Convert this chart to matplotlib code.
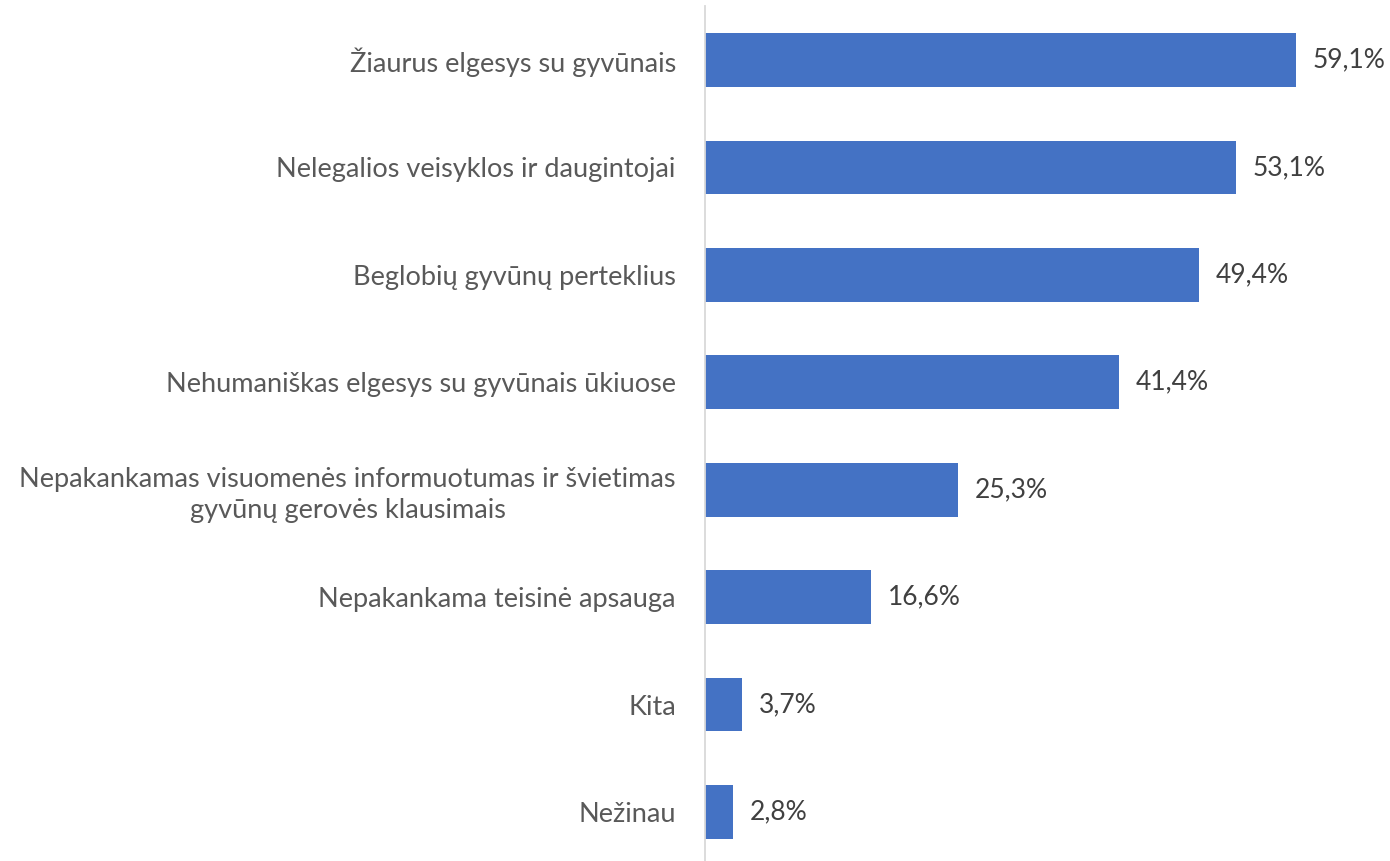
import matplotlib
matplotlib.use("Agg")
import matplotlib.pyplot as plt

# data (top to bottom)
categories = [
    "Žiaurus elgesys su gyvūnais",
    "Nelegalios veisyklos ir daugintojai",
    "Beglobių gyvūnų perteklius",
    "Nehumaniškas elgesys su gyvūnais ūkiuose",
    "Nepakankamas visuomenės informuotumas ir švietimas\ngyvūnų gerovės klausimais",
    "Nepakankama teisinė apsauga",
    "Kita",
    "Nežinau",
]
values = [59.1, 53.1, 49.4, 41.4, 25.3, 16.6, 3.7, 2.8]

plt.rcParams['font.family'] = ['Lato', 'DejaVu Sans']

fig = plt.figure(figsize=(13.9, 8.61), dpi=100)
ax = fig.add_axes([705/1390, -4.7/861, (1385-705)/1390, 859.4/861])

pos = list(range(len(categories)))
ax.barh(pos, values, height=0.5, color='#4472C4')
ax.set_ylim(len(categories) - 0.5, -0.5)
ax.set_xlim(0, 68.0)

for p, v in zip(pos, values):
    ax.text(v + 1.7, p, f"{v:.1f}%".replace('.', ','), va='center', ha='left',
            fontsize=19, color='#404040')

ax.set_yticks(pos)
ax.set_yticklabels(categories, fontsize=19.5, color='#595959', ha='right',
                   multialignment='center', linespacing=1.3)
ax.tick_params(axis='y', length=0, pad=21)

ax.set_xticks([])
for s in ['top', 'right', 'bottom']:
    ax.spines[s].set_visible(False)
ax.spines['left'].set_color('#D9D9D9')
ax.spines['left'].set_linewidth(1.3)

fig.savefig("out.png", dpi=100)
